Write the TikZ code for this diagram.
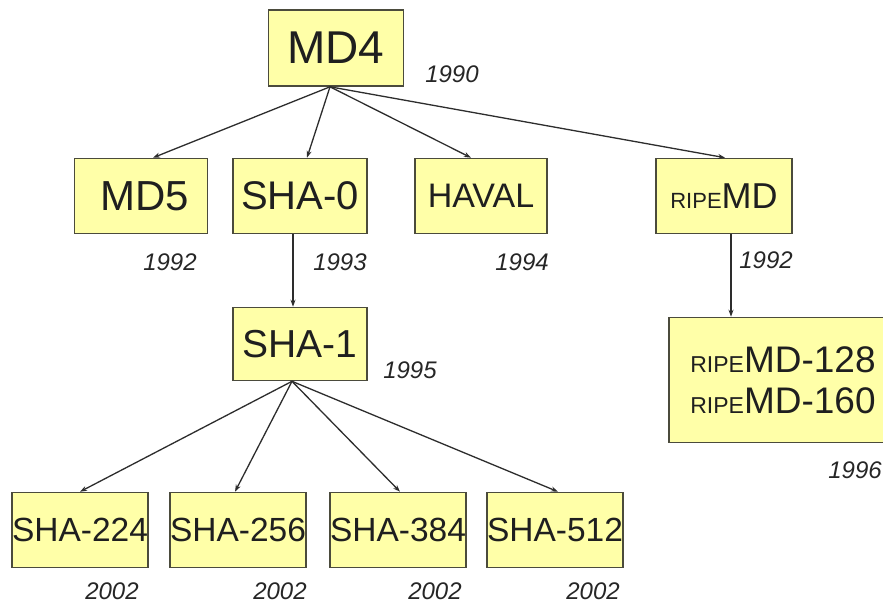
\documentclass[tikz,border=0pt]{standalone}
\usepackage{fontspec}
\setmainfont{Liberation Sans}
\usetikzlibrary{arrows.meta}
\definecolor{boxfill}{RGB}{255,255,168}
\definecolor{boxline}{RGB}{75,75,60}
\definecolor{linecol}{RGB}{45,45,45}
\newcommand{\fs}[1]{\fontsize{#1}{#1}\selectfont}
\newcommand{\ripe}[1]{{\fontsize{#1}{#1}\selectfont RIPE}}
\begin{document}
\begin{tikzpicture}[x=1pt,y=-1pt,
  hbox/.style={draw=boxline,fill=boxfill,line width=1.6pt,inner sep=0pt,text=black!88},
  year/.style={font=\fs{24}\itshape,text=black!85,inner sep=0pt},
  arr/.style={draw=linecol,line width=1.3pt,-{Stealth[length=7pt,width=5pt]}}]
\useasboundingbox (0,0) rectangle (883,606);
\clip (0,0) rectangle (883,606);
\fill[white] (0,0) rectangle (883,606);
% boxes
\node[hbox,minimum width=135pt,minimum height=76pt,font=\fs{46}] (md4) at (336,48) {MD4};
\node[hbox,minimum width=133pt,minimum height=75pt,font=\fs{42}] (md5) at (141,196) {\hspace{8pt}MD5};
\node[hbox,minimum width=134pt,minimum height=75pt,font=\fs{40}] (sha0) at (300,196) {SHA-0};
\node[hbox,minimum width=132pt,minimum height=75pt,font=\fs{34}] (haval) at (481,196) {HAVAL};
\node[hbox,minimum width=136pt,minimum height=75pt,font=\fs{36}] (ripemd) at (724,196) {\ripe{22}MD};
\node[hbox,minimum width=134pt,minimum height=73pt,font=\fs{39}] (sha1) at (300,344) {SHA-1};
\node[hbox,minimum width=228pt,minimum height=125pt,font=\fs{37},align=left] (ripe2) at (783,380) {\ripe{23}MD-128\\[4pt]\ripe{23}MD-160};
\node[hbox,minimum width=135pt,minimum height=75pt,font=\fs{33.5}] (s224) at (80,530) {SHA-224};
\node[hbox,minimum width=135pt,minimum height=75pt,font=\fs{33.5}] (s256) at (238,530) {SHA-256};
\node[hbox,minimum width=135pt,minimum height=75pt,font=\fs{33.5}] (s384) at (398,530) {SHA-384};
\node[hbox,minimum width=134pt,minimum height=75pt,font=\fs{33.5}] (s512) at (555,530) {SHA-512};
% years
\node[year] (y1990) at (452,74) {1990};
\node[year] (y1992a) at (170,262) {1992};
\node[year] (y1993) at (340,262) {1993};
\node[year] (y1994) at (522,262) {1994};
\node[year] (y1992b) at (766,260) {1992};
\node[year] (y1995) at (410,370) {1995};
\node[year] (y1996) at (855,470) {1996};
\node[year] (y2002a) at (112,591) {2002};
\node[year] (y2002b) at (280,591) {2002};
\node[year] (y2002c) at (435,591) {2002};
\node[year] (y2002d) at (593,591) {2002};
% connectors
\coordinate (m4s) at ([xshift=-6pt]md4.south);
\draw[arr] (m4s) -- ([xshift=12pt]md5.north);
\draw[arr] (m4s) -- ([xshift=7pt]sha0.north);
\draw[arr] (m4s) -- ([xshift=-10pt]haval.north);
\draw[arr] (m4s) -- ([xshift=1pt]ripemd.north);
\draw[arr] ([xshift=-7pt]sha0.south) -- ([xshift=-7pt]sha1.north);
\draw[arr] ([xshift=7pt]ripemd.south) -- ([xshift=-52pt]ripe2.north);
\coordinate (s1s) at ([xshift=-8pt]sha1.south);
\draw[arr] (s1s) -- (s224.north);
\draw[arr] (s1s) -- ([xshift=-3pt]s256.north);
\draw[arr] (s1s) -- ([xshift=2pt]s384.north);
\draw[arr] (s1s) -- ([xshift=3pt]s512.north);
\end{tikzpicture}
\end{document}
